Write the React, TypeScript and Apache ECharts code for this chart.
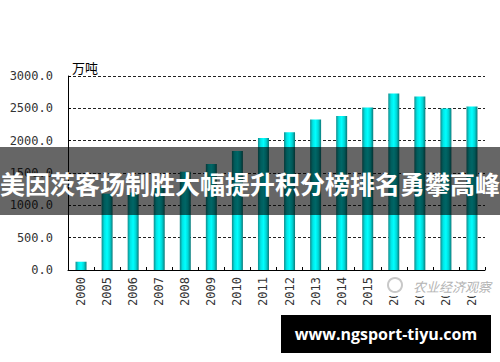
import React, { useEffect, useRef } from "react";
import * as echarts from "echarts";

const categories = ["2000", "2005", "2006", "2007", "2008", "2009", "2010", "2011", "2012", "2013", "2014", "2015", "2016", "2017", "2018", "2019"];
const values = [128, 1180, 1200, 1290, 1520, 1640, 1840, 2040, 2130, 2328, 2383, 2512, 2728, 2682, 2497, 2528];
const yTicks = { min: 0, max: 3000, interval: 500 };
const unitName = "万吨";
const bannerText = "美因茨客场制胜大幅提升积分榜排名勇攀高峰";
const siteText = "www.ngsport-tiyu.com";
const watermarkText = "农业经济观察";

export default function App() {
  const ref = useRef<HTMLDivElement>(null);
  useEffect(() => {
    if (!ref.current) return;
    const chart = echarts.init(ref.current, undefined, { renderer: "svg" });
    chart.setOption({
      animation: false,
      backgroundColor: "#ffffff",
      grid: { left: 68, right: 15, top: 76, bottom: 92 },
      xAxis: {
        type: "category",
        data: categories,
        axisLine: { show: true, lineStyle: { color: "#000", width: 1 } },
        axisTick: { show: true, inside: true, length: 3, lineStyle: { color: "#000" } },
        axisLabel: {
          rotate: 90,
          margin: 7,
          fontFamily: "DejaVu Sans Mono",
          fontSize: 12,
          color: "#333",
        },
      },
      yAxis: {
        type: "value",
        min: yTicks.min,
        max: yTicks.max,
        interval: yTicks.interval,
        name: unitName,
        nameLocation: "end",
        nameGap: 2,
        nameTextStyle: {
          align: "left",
          verticalAlign: "bottom",
          fontFamily: "Noto Sans CJK SC",
          fontSize: 13,
          color: "#000",
          padding: [0, 0, 0, 4],
        },
        axisLine: { show: true, lineStyle: { color: "#000", width: 1 } },
        axisTick: { show: true, inside: true, length: 3, lineStyle: { color: "#000" } },
        axisLabel: {
          margin: 15,
          fontFamily: "DejaVu Sans Mono",
          fontSize: 12,
          color: "#333",
          formatter: (v: number) => v.toFixed(1),
        },
        splitLine: { show: true, lineStyle: { type: [3, 2], color: "#222", width: 1 } },
      },
      series: [
        {
          type: "bar",
          data: values,
          barWidth: 11,
          itemStyle: {
            color: new echarts.graphic.LinearGradient(0, 0, 1, 0, [
              { offset: 0, color: "#138c8c" },
              { offset: 0.25, color: "#00e6e6" },
              { offset: 0.5, color: "#00ffff" },
              { offset: 0.75, color: "#00d8d8" },
              { offset: 1, color: "#0e7a7a" },
            ]),
          },
        },
      ],
      graphic: [
        {
          type: "rect",
          z: 100,
          shape: { x: 0, y: 147, width: 500, height: 68 },
          style: { fill: "rgba(0,0,0,0.6)" },
        },
        {
          type: "text",
          z: 101,
          x: 250,
          y: 183,
          style: {
            text: bannerText,
            fill: "#fff",
            font: "bold 25px 'Noto Sans CJK SC'",
            align: "center",
            verticalAlign: "middle",
          },
        },
        {
          type: "rect",
          z: 100,
          shape: { x: 384, y: 276, width: 104, height: 20 },
          style: { fill: "#fff" },
        },
        {
          type: "circle",
          z: 101,
          shape: { cx: 395, cy: 285, r: 7 },
          style: { fill: "none", stroke: "#c8c8c8", lineWidth: 2 },
        },
        {
          type: "text",
          z: 101,
          x: 413,
          y: 286,
          style: {
            text: watermarkText,
            fill: "#b4b4b4",
            font: "italic 13px 'Noto Sans CJK SC'",
            align: "left",
            verticalAlign: "middle",
          },
        },
        {
          type: "rect",
          z: 100,
          shape: { x: 281, y: 315, width: 210, height: 38 },
          style: { fill: "#000" },
        },
        {
          type: "text",
          z: 101,
          x: 386,
          y: 334,
          style: {
            text: siteText,
            fill: "#fff",
            font: "bold 16px 'Open Sans'",
            align: "center",
            verticalAlign: "middle",
          },
        },
      ],
    });
    return () => chart.dispose();
  }, []);
  return <div ref={ref} style={{ width: 500, height: 362, position: "absolute", left: 0, top: 0 }} />;
}
